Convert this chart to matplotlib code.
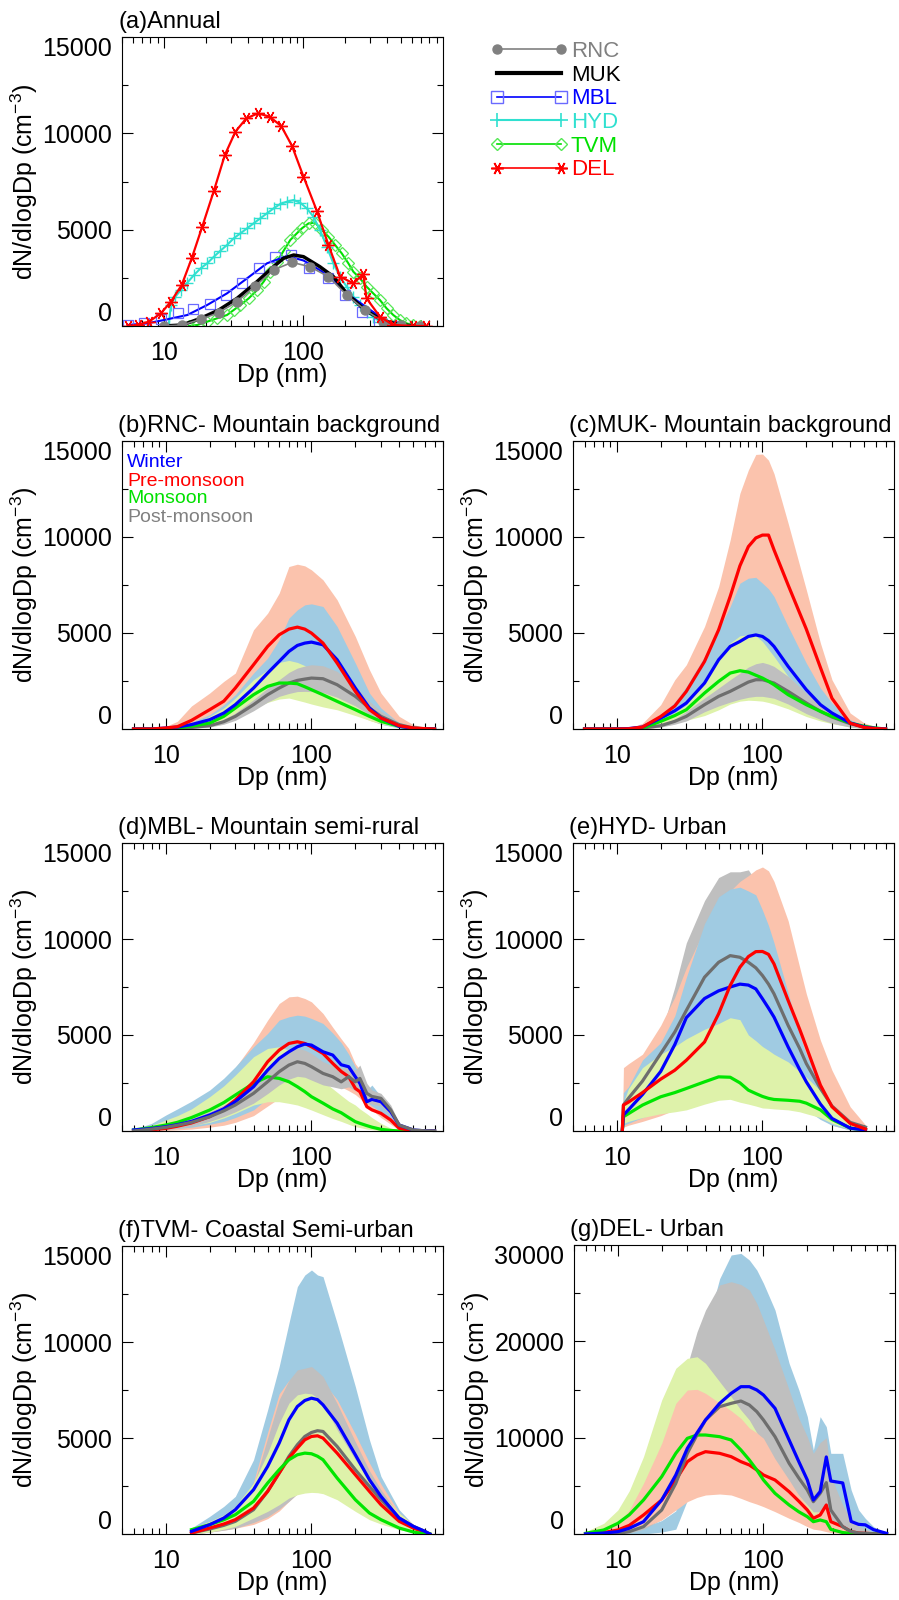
import numpy as np
import matplotlib
matplotlib.use('Agg')
import matplotlib.pyplot as plt
from matplotlib.lines import Line2D
from matplotlib.ticker import LogLocator, MultipleLocator, NullFormatter

plt.rcParams['font.family'] = ['Liberation Sans', 'DejaVu Sans']
plt.rcParams['mathtext.default'] = 'regular'

##############################################################################
# (a) annual mean size distributions
##############################################################################

rnc_dp = [10, 13.5, 18.3, 24.7, 33.4, 45.1, 61, 82.6, 111, 151, 204, 276, 372, 502, 683]
rnc_n = [0, 52, 346, 692, 1263, 2076, 2906, 3304, 3079, 2560, 1609, 830, 225, 52, 0]

muk_dp = [10, 13.5, 18.3, 24.7, 33.4, 45, 61, 72, 85, 100, 131, 164, 204, 276, 372, 502, 683]
muk_n = [0, 52, 398, 830, 1436, 2214, 3079, 3512, 3685, 3598, 3079, 2560, 1695, 830, 277, 52, 0]

mbl_line_dp = [5.5, 7.6, 10, 14.7, 20.4, 28.3, 39.4, 54.7, 76, 100, 131, 164, 204, 268, 353, 440]
mbl_line_n = [52, 138, 311, 571, 1090, 1695, 2474, 3252, 3633, 3400, 2900, 2400, 1695, 1090, 484, 52]
mbl_mark_dp = [5.5, 7.2, 9.5, 12.5, 16.1, 21.2, 27.9, 36.3, 47.7, 62.8, 81.7, 110, 149, 199, 264, 347, 464]
mbl_mark_n = [52, 138, 346, 657, 865, 1142, 1609, 2214, 3028, 3564, 3685, 2993, 2474, 1609, 744, 225, 0]

hyd_dp = [10.8, 11.2, 12, 13.2, 14.7, 16.4, 18.3, 20.4, 22.8, 25.4, 28.3, 31.6, 35.3, 39.4,
          43.9, 49, 54.7, 61.1, 68.1, 76, 84.8, 94.6, 105.6, 117.8, 131.4, 146.8, 163.7,
          182.7, 204, 227.6, 254, 283.5, 316, 353, 400, 450]
hyd_n = [0, 1100, 1500, 1868, 2249, 2647, 2993, 3252, 3598, 3910, 4204, 4550, 4809, 5069,
         5328, 5588, 5847, 6107, 6332, 6453, 6539, 6401, 6107, 5674, 4982, 4117, 3252,
         2560, 2041, 1522, 1090, 744, 484, 225, 80, 0]

tvm_dp = [15.1, 17.3, 20.4, 24, 28.3, 31.6, 35.3, 40.5, 46.5, 51.8, 57.9, 64.6, 72.1, 80.4,
          89.6, 97.4, 108.8, 121.3, 135.4, 151, 168.5, 188, 209.7, 227.6, 254, 283.5, 316,
          353, 394, 440, 490, 547, 610, 681]
tvm_n = [0, 52, 225, 398, 571, 830, 1090, 1436, 1868, 2301, 2820, 3339, 3910, 4463,
         4809, 5069, 5328, 5363, 4982, 4636, 4204, 3771, 3252, 2820, 2474, 2041, 1695,
         1349, 917, 571, 311, 138, 52, 0]

del_dp = [5.5, 6.5, 7.8, 9.5, 11.2, 13.4, 15.8, 18.8, 22.8, 27.3, 32.5, 38.9, 47.2, 57.2,
          69.2, 82.6, 100, 124.5, 151, 183, 228, 268, 283, 353, 440, 611, 760]
del_n = [0, 52, 225, 657, 1263, 2128, 3512, 5155, 7024, 8875, 10086, 10778, 11037, 10864,
         10380, 9359, 7750, 5986, 4204, 2560, 2214, 2699, 1436, 484, 52, 0, 0]

##############################################################################
# (b) RNC seasonal
##############################################################################

dp_b = [6, 8, 10, 12, 15, 20, 25, 30, 40, 50, 60, 70, 80, 90, 100, 120, 150, 200, 250, 300, 400, 500, 600, 700]
b_pre = [0, 0, 52, 120, 450, 1006, 1450, 2133, 3347, 4300, 4907, 5202, 5306, 5202, 4994, 4474, 3433, 1959, 1006, 572, 173, 52, 20, 0]
b_pre_hi = [0, 0, 139, 399, 1200, 1873, 2480, 2913, 5167, 6034, 7074, 8462, 8583, 8497, 8289, 7768, 6728, 4821, 3087, 1873, 659, 225, 90, 30]
b_pre_lo = [0, 0, 0, 0, 50, 300, 550, 800, 1300, 1800, 2000, 2100, 2100, 2050, 2000, 1800, 1400, 800, 450, 250, 80, 20, 0, 0]
b_win = [0, 0, 52, 100, 230, 485, 832, 1266, 2133, 2913, 3520, 4040, 4352, 4474, 4526, 4387, 3607, 2133, 1092, 572, 139, 35, 10, 0]
b_win_hi = [0, 0, 60, 150, 350, 745, 1266, 1786, 2913, 3693, 4647, 5774, 6207, 6467, 6519, 6380, 5340, 3433, 1873, 1092, 312, 104, 30, 0]
b_win_lo = [0, 0, 30, 50, 120, 250, 450, 700, 1300, 1900, 2300, 2500, 2600, 2600, 2550, 2400, 1900, 1000, 500, 250, 50, 10, 0, 0]
b_mon = [0, 0, 0, 60, 150, 312, 659, 1092, 1786, 2220, 2393, 2393, 2358, 2200, 2046, 1780, 1439, 1006, 659, 399, 139, 35, 10, 0]
b_mon_hi = [0, 0, 0, 80, 200, 659, 1092, 1613, 2566, 3087, 3468, 3572, 3468, 3300, 3087, 2750, 2393, 1786, 1266, 832, 312, 52, 10, 0]
b_mon_lo = [0, 0, 0, 20, 60, 150, 300, 572, 1092, 1387, 1560, 1613, 1500, 1400, 1300, 1150, 1000, 700, 450, 280, 90, 10, 0, 0]
b_post = [0, 0, 0, 20, 80, 173, 380, 659, 1266, 1786, 2133, 2393, 2532, 2600, 2653, 2619, 2306, 1700, 1092, 659, 225, 52, 15, 0]
b_post_hi = [0, 0, 0, 30, 110, 225, 500, 832, 1526, 2133, 2566, 2948, 3173, 3280, 3347, 3295, 2999, 2220, 1439, 919, 347, 139, 40, 0]
b_post_lo = [0, 0, 0, 10, 40, 100, 250, 450, 950, 1400, 1700, 1850, 1950, 1960, 1950, 1900, 1650, 1200, 750, 400, 100, 20, 0, 0]

##############################################################################
# (c) MUK seasonal
##############################################################################

dp_c = [6, 8, 10, 12, 15, 20, 25, 30, 40, 50, 60, 70, 80, 90, 100, 110, 120, 150, 200, 250, 300, 400, 500, 600, 700]
c_pre = [0, 0, 0, 10, 100, 650, 1200, 1960, 3520, 5167, 6900, 8500, 9500, 9950, 10100, 10100, 9330, 7500, 5200, 3200, 1600, 300, 80, 20, 0]
c_pre_hi = [0, 0, 0, 30, 300, 1266, 2566, 3347, 5340, 7421, 9849, 12277, 13490, 14300, 14323, 14000, 13300, 10716, 7248, 4474, 2566, 832, 312, 120, 52]
c_pre_lo = [0, 0, 0, 0, 0, 100, 350, 700, 1500, 2500, 3500, 4500, 5000, 5300, 5500, 5300, 5000, 4000, 2500, 1300, 600, 150, 30, 0, 0]
c_win = [0, 0, 0, 20, 104, 572, 950, 1353, 2393, 3607, 4300, 4560, 4820, 4900, 4820, 4600, 4300, 3260, 2046, 1266, 832, 312, 104, 30, 0]
c_win_hi = [0, 0, 0, 20, 150, 745, 1400, 2220, 3780, 5167, 6380, 7594, 7854, 7900, 7594, 7300, 6901, 5340, 3433, 2133, 1353, 486, 173, 60, 20]
c_win_lo = [0, 0, 0, 0, 30, 250, 450, 700, 1200, 1800, 2300, 2500, 2700, 2700, 2600, 2450, 2300, 1700, 1000, 600, 400, 150, 50, 10, 0]
c_mon = [0, 0, 0, 10, 52, 399, 700, 1006, 1873, 2480, 2913, 3035, 2965, 2800, 2653, 2480, 2306, 1786, 1266, 919, 659, 312, 139, 50, 0]
c_mon_hi = [0, 0, 0, 10, 80, 486, 850, 1266, 2566, 3780, 4474, 4855, 4907, 4855, 4560, 4150, 3780, 2740, 1786, 1179, 832, 399, 139, 50, 10]
c_mon_lo = [0, 0, 0, 0, 10, 150, 300, 450, 700, 1000, 1300, 1450, 1500, 1480, 1450, 1380, 1300, 1050, 650, 420, 280, 100, 30, 10, 0]
c_post = [0, 0, 0, 10, 50, 173, 400, 659, 1266, 1700, 1960, 2220, 2445, 2566, 2566, 2480, 2393, 1960, 1353, 919, 624, 277, 104, 30, 0]
c_post_hi = [0, 0, 0, 10, 60, 225, 520, 919, 1613, 2133, 2566, 2913, 3225, 3399, 3468, 3380, 3260, 2740, 1873, 1266, 867, 399, 173, 60, 10]
c_post_lo = [0, 0, 0, 0, 20, 100, 250, 420, 900, 1200, 1400, 1550, 1650, 1700, 1700, 1650, 1600, 1300, 800, 500, 300, 100, 30, 10, 0]

##############################################################################
# (d) MBL seasonal
##############################################################################

dp_d = [6, 8, 10, 12, 15, 20, 25, 30, 40, 50, 60, 70, 80, 90, 100, 120, 140, 160, 180, 200, 215, 240, 260, 300, 350, 400, 500, 600, 700]
d_pre = [0, 60, 139, 250, 420, 745, 1150, 1613, 2566, 3607, 4213, 4560, 4647, 4560, 4387, 4040, 3520, 3100, 2830, 2220, 2046, 1266, 1100, 919, 572, 139, 17, 0, 0]
d_pre_hi = [0, 80, 300, 500, 800, 1350, 2100, 3300, 4600, 5774, 6641, 6988, 7023, 6900, 6728, 6121, 5400, 4800, 4300, 3500, 3200, 2000, 1700, 1000, 550, 139, 30, 0, 0]
d_pre_lo = [0, 0, 30, 60, 100, 200, 300, 450, 800, 1300, 1700, 2000, 2200, 2250, 2300, 2300, 2400, 2300, 2100, 1900, 1700, 1300, 1100, 700, 350, 50, 0, 0, 0]
d_win = [52, 130, 225, 330, 500, 832, 1150, 1526, 2306, 3173, 3780, 4127, 4387, 4526, 4474, 4127, 3954, 3450, 3347, 2826, 2480, 1526, 1647, 1526, 1006, 312, 52, 10, 0]
d_win_hi = [80, 400, 832, 1150, 1550, 2133, 2750, 3347, 4387, 5080, 5774, 5948, 6034, 5982, 5860, 5600, 5100, 4600, 4000, 3347, 3000, 2133, 2393, 1786, 1092, 225, 40, 0, 0]
d_win_lo = [0, 30, 80, 130, 200, 350, 500, 700, 1100, 1700, 2200, 2500, 2700, 2800, 2800, 2700, 2600, 2500, 2400, 2200, 2000, 1500, 1300, 1000, 600, 100, 0, 0, 0]
d_mon = [52, 180, 312, 450, 700, 1092, 1480, 1873, 2480, 2826, 2740, 2566, 2306, 2050, 1786, 1450, 1150, 950, 700, 485, 400, 280, 200, 87, 30, 0, 0, 0, 0]
d_mon_hi = [87, 300, 572, 800, 1150, 1786, 2350, 2913, 3867, 4300, 4387, 4213, 3954, 3600, 3260, 2600, 2200, 1850, 1550, 1353, 1150, 900, 700, 400, 150, 52, 0, 0, 0]
d_mon_lo = [0, 30, 100, 170, 280, 450, 680, 919, 1353, 1526, 1526, 1440, 1353, 1220, 1092, 850, 650, 500, 350, 225, 180, 100, 70, 20, 0, 0, 0, 0, 0]
d_post = [0, 100, 190, 300, 450, 745, 1050, 1353, 1960, 2566, 3087, 3433, 3607, 3520, 3347, 3000, 2826, 2560, 2830, 2560, 2740, 1960, 1800, 1700, 1100, 312, 52, 10, 0]
d_post_hi = [0, 150, 312, 450, 650, 1006, 1350, 1700, 2480, 3173, 3780, 4127, 4300, 4213, 4040, 3607, 3400, 3260, 3347, 3173, 3433, 2480, 2133, 1960, 1353, 399, 52, 10, 0]
d_post_lo = [0, 50, 80, 150, 250, 500, 750, 1000, 1450, 1950, 2400, 2700, 2850, 2800, 2650, 2400, 2300, 2200, 2300, 2100, 2100, 1500, 1400, 1300, 800, 150, 20, 0, 0]

##############################################################################
# (e) HYD seasonal
##############################################################################

dp_e = [10.9, 11.1, 12, 15, 20, 25, 30, 40, 50, 60, 70, 80, 90, 100, 110, 120, 150, 180, 200, 250, 300, 400, 510]
e_pre = [0, 1350, 1500, 2000, 2700, 3166, 3685, 4636, 6107, 7577, 8529, 9083, 9342, 9350, 9200, 8702, 6799, 5300, 4377, 2387, 1263, 398, 100]
e_pre_hi = [0, 3300, 3500, 4000, 5500, 6972, 8500, 10500, 11800, 12500, 13000, 13300, 13600, 13750, 13550, 13000, 10950, 8530, 7145, 4723, 3166, 1263, 311]
e_pre_lo = [0, 200, 300, 500, 800, 1100, 1500, 2000, 2500, 3000, 3500, 4000, 4300, 4500, 4400, 4200, 3000, 2000, 1500, 700, 300, 50, 0]
e_win = [0, 830, 1100, 1900, 3100, 4500, 5900, 6900, 7300, 7500, 7650, 7600, 7400, 6886, 6400, 5934, 4377, 3200, 2560, 1400, 657, 150, 50]
e_win_hi = [0, 2000, 2300, 3700, 4600, 6000, 8000, 10800, 12200, 12600, 12700, 12500, 12300, 11500, 10700, 9800, 7200, 5000, 4000, 2400, 1300, 400, 100]
e_win_lo = [0, 300, 400, 700, 1000, 1300, 1600, 2000, 2400, 2600, 2600, 2500, 2400, 2300, 2200, 2100, 1700, 1300, 1100, 600, 300, 50, 0]
e_mon = [0, 745, 900, 1350, 1782, 2000, 2214, 2560, 2820, 2800, 2508, 2128, 1950, 1800, 1700, 1643, 1600, 1550, 1450, 1100, 600, 150, 50]
e_mon_hi = [0, 1500, 2200, 3300, 4000, 4400, 4800, 5300, 5600, 5900, 5800, 5000, 4700, 4400, 4200, 4000, 3600, 3100, 2800, 2100, 1200, 400, 100]
e_mon_lo = [0, 400, 500, 700, 900, 1000, 1100, 1400, 1600, 1650, 1500, 1400, 1300, 1200, 1180, 1150, 1100, 1000, 900, 700, 400, 100, 20]
e_post = [0, 1350, 1700, 2600, 4031, 5155, 6280, 8010, 8788, 9134, 9048, 8788, 8500, 8096, 7650, 7145, 5501, 4300, 3512, 2214, 1300, 450, 200]
e_post_hi = [0, 2000, 2400, 3500, 5000, 7500, 9800, 12000, 13200, 13500, 13500, 13600, 13000, 11500, 10500, 9500, 7000, 5200, 4500, 2800, 1600, 500, 150]
e_post_lo = [0, 500, 700, 1200, 2000, 2800, 3500, 4500, 4800, 5000, 4800, 4600, 4400, 4200, 4000, 3700, 2800, 2000, 1500, 800, 400, 100, 0]

##############################################################################
# (f) TVM seasonal
##############################################################################

dp_f = [15, 20, 25, 30, 40, 50, 60, 70, 80, 90, 100, 110, 120, 150, 200, 250, 300, 400, 500, 600, 650]
f_win = [139, 486, 832, 1266, 2306, 3520, 4734, 5948, 6641, 6953, 7075, 7000, 6728, 5774, 4127, 2826, 1960, 832, 399, 139, 0]
f_win_hi = [312, 919, 1439, 1960, 3867, 6468, 8722, 10976, 12884, 13490, 13750, 13490, 13404, 10976, 7682, 4907, 3000, 1266, 486, 225, 50]
f_win_lo = [0, 100, 250, 400, 900, 1500, 2000, 2300, 2500, 2700, 2800, 2800, 2700, 2500, 1600, 1100, 800, 400, 150, 50, 0]
f_pre = [52, 312, 520, 746, 1353, 2220, 3173, 3954, 4474, 4907, 5080, 5115, 4994, 4213, 3087, 2220, 1526, 659, 312, 87, 0]
f_pre_hi = [60, 350, 600, 900, 2700, 5300, 7300, 8000, 8200, 8200, 8100, 8000, 7900, 7000, 5200, 3700, 2600, 1100, 500, 150, 0]
f_pre_lo = [0, 100, 200, 300, 500, 800, 1200, 1700, 2100, 2400, 2500, 2500, 2500, 2200, 1600, 1100, 700, 300, 100, 20, 0]
f_mon = [225, 486, 740, 1006, 1700, 2653, 3347, 3867, 4127, 4213, 4179, 4050, 3867, 2913, 1786, 1092, 746, 312, 104, 0, 0]
f_mon_hi = [312, 659, 1000, 1439, 2653, 4213, 5774, 6815, 7248, 7335, 7300, 7100, 6815, 5427, 3867, 2826, 2046, 1092, 486, 139, 0]
f_mon_lo = [0, 100, 250, 400, 832, 1180, 1526, 1873, 2046, 2133, 2167, 2150, 2100, 1786, 1180, 746, 520, 225, 87, 0, 0]
f_post = [52, 260, 450, 659, 1266, 2220, 3173, 4040, 4647, 5080, 5288, 5380, 5340, 4560, 3347, 2480, 1786, 832, 399, 139, 0]
f_post_hi = [100, 350, 600, 900, 2500, 5000, 7000, 8000, 8549, 8635, 8722, 8462, 8202, 6800, 4800, 3300, 2300, 1000, 450, 150, 100]
f_post_lo = [0, 100, 200, 300, 600, 900, 1300, 1700, 2100, 2400, 2500, 2500, 2500, 2300, 1900, 1400, 1000, 500, 200, 50, 0]

##############################################################################
# (g) DEL seasonal
##############################################################################

dp_g = [6, 8, 10, 12, 15, 20, 25, 30, 35, 40, 50, 60, 70, 80, 90, 100, 120, 150, 175, 200, 220, 245, 270, 290, 350, 400, 450, 500, 570, 700]
g_win = [0, 100, 242, 600, 1280, 3529, 6124, 8892, 10500, 11833, 13563, 14601, 15293, 15293, 14947, 14428, 13044, 9757, 7500, 5605, 3529, 4400, 8000, 5500, 5300, 1300, 1000, 950, 450, 69]
g_win_hi = [0, 100, 300, 500, 700, 1400, 2400, 12000, 17000, 21000, 26500, 28960, 29130, 28440, 27400, 26020, 23250, 17715, 14950, 12180, 8720, 12180, 11140, 8373, 8373, 4567, 2500, 1626, 761, 100]
g_win_lo = [0, 0, 0, 0, 0, 200, 500, 3500, 4000, 5000, 6000, 6000, 5500, 5000, 4700, 4500, 4000, 3000, 2200, 1500, 1000, 1000, 1200, 800, 500, 200, 100, 50, 0, 0]
g_pre = [0, 150, 415, 900, 1972, 3529, 5605, 7508, 8200, 8546, 8373, 8027, 7508, 7162, 6643, 6124, 5605, 4394, 3400, 2491, 1626, 1972, 3010, 1280, 761, 242, 100, 69, 30, 0]
g_pre_hi = [100, 400, 1107, 2500, 5259, 9411, 13563, 14947, 15016, 14600, 13600, 12800, 12000, 11000, 10500, 9930, 7800, 5600, 4000, 2837, 2000, 2400, 3200, 1500, 800, 300, 150, 100, 30, 0]
g_pre_lo = [0, 0, 100, 300, 700, 1453, 2491, 3356, 3800, 4048, 4152, 4048, 3700, 3356, 3100, 2837, 2318, 1626, 1200, 761, 500, 400, 242, 150, 50, 0, 0, 0, 0, 0]
g_mon = [69, 415, 1107, 2000, 3529, 5951, 8373, 9930, 10276, 10276, 10103, 9757, 8719, 7681, 6643, 5605, 4221, 3010, 2300, 1799, 1280, 1453, 1280, 484, 150, 69, 30, 0, 0, 0]
g_mon_hi = [242, 1107, 2491, 4500, 8027, 13910, 17200, 18234, 18400, 17715, 15812, 14255, 12871, 11833, 10500, 9000, 7000, 5000, 4000, 3000, 2300, 2300, 2200, 1500, 600, 300, 100, 0, 0, 0]
g_mon_lo = [0, 50, 200, 400, 800, 2000, 3000, 4000, 4500, 5000, 5000, 5000, 4500, 4200, 4000, 3800, 3000, 2500, 2000, 1500, 1000, 1000, 800, 500, 200, 50, 0, 0, 0, 0]
g_post = [0, 0, 60, 250, 761, 2491, 5259, 8373, 10300, 11833, 13217, 13563, 13806, 13390, 12698, 11833, 10103, 7335, 5800, 4567, 3356, 4221, 5328, 2491, 761, 242, 100, 69, 20, 0]
g_post_hi = [0, 0, 50, 200, 700, 3000, 8000, 17500, 21000, 23250, 25850, 26190, 25900, 25330, 23940, 22200, 19100, 14950, 12000, 10100, 8370, 9500, 10000, 6000, 3000, 1500, 800, 500, 200, 0]
g_post_lo = [0, 0, 0, 100, 500, 1500, 4000, 7000, 8000, 8000, 8000, 8000, 7800, 7500, 7200, 7000, 5500, 4000, 3000, 2000, 1200, 1300, 1500, 800, 300, 150, 50, 0, 0, 0]

##############################################################################

LINE_C = {'win': '#0000ff', 'pre': '#ff0000', 'mon': '#00e600', 'post': '#6e6e6e'}
BAND_C = {'win': '#a0cbe2', 'pre': '#fbc3ad', 'mon': '#def2aa', 'post': '#bfbfbf'}

W, H = 899, 1600
fig = plt.figure(figsize=(W / 100, H / 100), dpi=100)


def new_ax(left, top, width=321, height=288):
    return fig.add_axes([left / W, 1 - (top + height) / H, width / W, height / H])


def style(ax, xmax, ymax, title):
    ystep = ymax / 3
    ax.set_xscale('log')
    ax.set_xlim(5, xmax)
    ax.set_ylim(0, ymax)
    ax.set_xticks([10, 100])
    ax.set_xticklabels(['10', '100'])
    ax.xaxis.set_minor_locator(LogLocator(base=10, subs=np.arange(2, 10)))
    ax.xaxis.set_minor_formatter(NullFormatter())
    ax.set_yticks(np.arange(0, ymax + 1, ystep))
    ax.set_yticklabels(['%d' % v for v in np.arange(0, ymax + 1, ystep)])
    ax.yaxis.set_minor_locator(MultipleLocator(ystep / 2))
    ax.tick_params(which='both', direction='in', top=True, right=True, width=0.8,
                   labelsize=18, colors='k')
    ax.tick_params(which='major', length=8)
    ax.tick_params(which='minor', length=4)
    ax.tick_params(axis='x', pad=11)
    ax.tick_params(axis='y', pad=7)
    labs = ax.get_yticklabels()
    labs[0].set_va('bottom')
    labs[-1].set_va('top')
    for s in ax.spines.values():
        s.set_linewidth(0.8)
    ax.set_xlabel('Dp (nm)', fontsize=18)
    ax.xaxis.set_label_coords(0.5, -0.128)
    ax.set_ylabel('dN/dlogDp (cm$^{-3}$)', fontsize=18)
    ax.yaxis.set_label_coords(-0.255, 0.5)
    ax.text(-0.012, 1.031, title, transform=ax.transAxes, fontsize=17,
            ha='left', va='baseline')


def season_panel(ax, dp, data, band_order, line_order):
    dp = np.array(dp)
    for s in band_order:
        mean, lo, hi = data[s]
        ax.fill_between(dp, lo, hi, color=BAND_C[s], lw=0)
    for s in line_order:
        ax.plot(dp, data[s][0], color=LINE_C[s], lw=2.3)


# ---- (a)
ax = new_ax(122, 37, height=289)
ax.plot(tvm_dp, tvm_n, color='#00e000', lw=1.5, marker='D', ms=6, mfc='none', mec='#55e855', mew=0.9)
ax.plot(hyd_dp, hyd_n, color='#30e0d0', lw=1.5, marker='+', ms=9, mew=1.0)
ax.plot(mbl_line_dp, mbl_line_n, color='#0000ff', lw=1.5)
ax.plot(mbl_mark_dp, mbl_mark_n, ls='none', marker='s', ms=7, mfc='none', mec='#6a6aff', mew=0.9)
ax.plot(muk_dp, muk_n, color='k', lw=2.5)
ax.plot(rnc_dp, rnc_n, color='#808080', lw=1.2, marker='o', ms=6.5, mfc='#808080', mec='#808080')
ax.plot(del_dp, del_n, color='#ff0000', lw=1.6, marker=(6, 2, 90), ms=9, mew=1.0)
style(ax, 1000, 15000, '(a)Annual')

handles = [
    Line2D([], [], color='#808080', lw=1.2, marker='o', ms=6.5, mfc='#808080', mec='#808080'),
    Line2D([], [], color='k', lw=3),
    Line2D([], [], color='#0000ff', lw=1.2, marker='s', ms=8, mfc='none', mec='#6a6aff'),
    Line2D([], [], color='#30e0d0', lw=1.5, marker='+', ms=10, mew=1.2),
    Line2D([], [], color='#00e000', lw=1.2, marker='D', ms=6.5, mfc='none', mec='#55e855'),
    Line2D([], [], color='#ff0000', lw=1.2, marker=(6, 2, 90), ms=9, mew=1.2),
]
labels = ['RNC', 'MUK', 'MBL', 'HYD', 'TVM', 'DEL']
fig.legend(handles, labels, loc='upper left', bbox_to_anchor=(490 / W, 1 - 41 / H),
           bbox_transform=fig.transFigure, frameon=False, fontsize=16, numpoints=2,
           handlelength=3.48, handletextpad=0.15, labelspacing=0.12, borderpad=0,
           borderaxespad=0,
           labelcolor=['#808080', 'k', '#0000ff', '#30e0d0', '#00e000', '#ff0000'])

# ---- (b)
ax = new_ax(122, 441)
season_panel(ax, dp_b, {'win': (b_win, b_win_lo, b_win_hi), 'pre': (b_pre, b_pre_lo, b_pre_hi),
                        'mon': (b_mon, b_mon_lo, b_mon_hi), 'post': (b_post, b_post_lo, b_post_hi)},
             ['pre', 'win', 'mon', 'post'], ['post', 'mon', 'win', 'pre'])
style(ax, 800, 15000, '(b)RNC- Mountain background')
for txt, c, yy in [('Winter', '#0000ff', 0.927), ('Pre-monsoon', '#ff0000', 0.861),
                   ('Monsoon', '#00e000', 0.799), ('Post-monsoon', '#808080', 0.736)]:
    ax.text(0.016, yy, txt, color=c, fontsize=14, transform=ax.transAxes, va='center')

# ---- (c)
ax = new_ax(573, 441)
season_panel(ax, dp_c, {'win': (c_win, c_win_lo, c_win_hi), 'pre': (c_pre, c_pre_lo, c_pre_hi),
                        'mon': (c_mon, c_mon_lo, c_mon_hi), 'post': (c_post, c_post_lo, c_post_hi)},
             ['pre', 'win', 'mon', 'post'], ['post', 'mon', 'win', 'pre'])
style(ax, 800, 15000, '(c)MUK- Mountain background')

# ---- (d)
ax = new_ax(122, 843)
season_panel(ax, dp_d, {'win': (d_win, d_win_lo, d_win_hi), 'pre': (d_pre, d_pre_lo, d_pre_hi),
                        'mon': (d_mon, d_mon_lo, d_mon_hi), 'post': (d_post, d_post_lo, d_post_hi)},
             ['pre', 'win', 'mon', 'post'], ['mon', 'pre', 'win', 'post'])
style(ax, 800, 15000, '(d)MBL- Mountain semi-rural')

# ---- (e)
ax = new_ax(573, 843)
season_panel(ax, dp_e, {'win': (e_win, e_win_lo, e_win_hi), 'pre': (e_pre, e_pre_lo, e_pre_hi),
                        'mon': (e_mon, e_mon_lo, e_mon_hi), 'post': (e_post, e_post_lo, e_post_hi)},
             ['post', 'pre', 'win', 'mon'], ['post', 'mon', 'win', 'pre'])
style(ax, 800, 15000, '(e)HYD- Urban')

# ---- (f)
ax = new_ax(122, 1246)
season_panel(ax, dp_f, {'win': (f_win, f_win_lo, f_win_hi), 'pre': (f_pre, f_pre_lo, f_pre_hi),
                        'mon': (f_mon, f_mon_lo, f_mon_hi), 'post': (f_post, f_post_lo, f_post_hi)},
             ['win', 'pre', 'post', 'mon'], ['post', 'pre', 'mon', 'win'])
style(ax, 800, 15000, '(f)TVM- Coastal Semi-urban')

# ---- (g)
ax = new_ax(574, 1245, height=289)
season_panel(ax, dp_g, {'win': (g_win, g_win_lo, g_win_hi), 'pre': (g_pre, g_pre_lo, g_pre_hi),
                        'mon': (g_mon, g_mon_lo, g_mon_hi), 'post': (g_post, g_post_lo, g_post_hi)},
             ['win', 'post', 'mon', 'pre'], ['pre', 'mon', 'post', 'win'])
style(ax, 800, 30000, '(g)DEL- Urban')

fig.savefig('out.png', dpi=100)
